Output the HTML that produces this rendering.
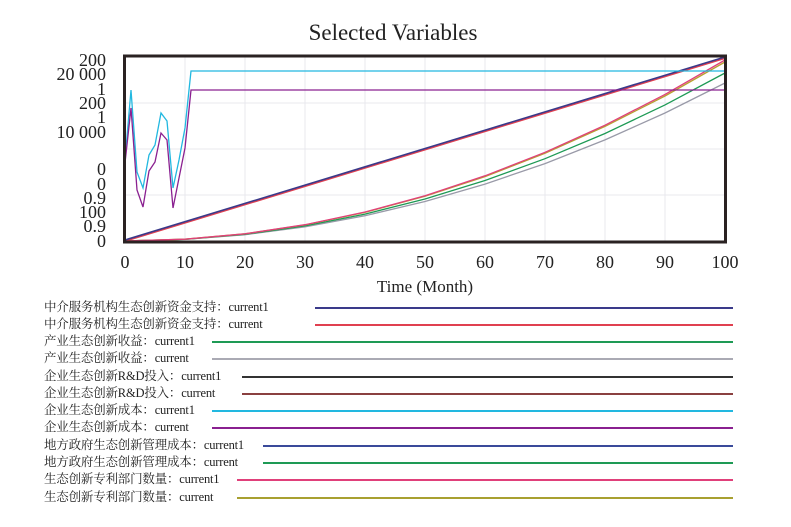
<!DOCTYPE html>
<html><head><meta charset="utf-8"><style>
body{margin:0;background:#fff;width:791px;height:527px;overflow:hidden;position:relative;font-family:"Liberation Serif","Noto Serif CJK SC",serif;}
.lg{position:absolute;left:44px;font-size:12.5px;color:#222;font-family:"Liberation Serif","Noto Serif CJK SC",serif;white-space:nowrap;line-height:14px;letter-spacing:-0.2px}
.ln{position:absolute;height:1.5px;right:58px}
</style></head><body>
<svg width="791" height="300" style="position:absolute;left:0;top:0" font-family="Liberation Serif, serif">
<text x="393" y="40" font-size="23" text-anchor="middle" fill="#222">Selected Variables</text>
<g stroke="#e8e8ee" stroke-width="1">
<line x1="185" y1="57" x2="185" y2="241"/><line x1="245" y1="57" x2="245" y2="241"/><line x1="305" y1="57" x2="305" y2="241"/><line x1="365" y1="57" x2="365" y2="241"/><line x1="425" y1="57" x2="425" y2="241"/><line x1="485" y1="57" x2="485" y2="241"/><line x1="545" y1="57" x2="545" y2="241"/><line x1="605" y1="57" x2="605" y2="241"/><line x1="665" y1="57" x2="665" y2="241"/>
<line x1="125" y1="103" x2="725" y2="103"/><line x1="125" y1="149" x2="725" y2="149"/><line x1="125" y1="195" x2="725" y2="195"/>
</g>
<g fill="none" stroke-width="1.3">
<polyline stroke="#999aa8" points="125,241 185,239.4 245,234.7 305,226.8 365,215.7 425,201.5 485,184.1 545,163.6 605,139.9 665,113 725,83"/>
<polyline stroke="#1e9a55" points="125,241 185,239.3 245,234.3 305,225.9 365,214.1 425,199 485,180.5 545,158.7 605,133.5 665,104.9 725,73"/>
<polyline stroke="#b8a030" points="125,241 185,239.2 245,233.8 305,224.9 365,212.4 425,196.3 485,176.6 545,153.3 605,126.4 665,96 725,62"/>
<polyline stroke="#e0407a" points="125,241 185,239.2 245,233.8 305,224.7 365,212 425,195.8 485,175.8 545,152.3 605,125.2 665,94.4 725,60"/>
<polyline stroke="#e04050" stroke-width="2" points="125,241 725,58"/>
<polyline stroke="#3a3a8a" stroke-width="1.6" points="125,240 725,57"/>
<polyline stroke="#22b8e0" points="125,160 131,90 137,172 143,188 149,155 155,145 161,113 167,121 173,188 179,160 185,128 191,71 725,71"/>
<polyline stroke="#8a2090" points="125,163 131,108 137,190 143,207 149,171 155,162 161,133 167,140 173,208 179,178 185,148 191,90 725,90"/>
</g>
<rect x="124.5" y="56" width="601" height="186" fill="none" stroke="#2a2222" stroke-width="3"/>
<g font-size="18" fill="#222" text-anchor="end">
<text x="106" y="66">200</text><text x="106" y="80">20 000</text><text x="106" y="95">1</text><text x="106" y="109">200</text><text x="106" y="123">1</text><text x="106" y="138">10 000</text><text x="106" y="175">0</text><text x="106" y="190">0</text><text x="106" y="204">0.9</text><text x="106" y="218">100</text><text x="106" y="232">0.9</text><text x="106" y="247">0</text>
</g>
<g font-size="18" fill="#222" text-anchor="middle">
<text x="125" y="268">0</text><text x="185" y="268">10</text><text x="245" y="268">20</text><text x="305" y="268">30</text><text x="365" y="268">40</text><text x="425" y="268">50</text><text x="485" y="268">60</text><text x="545" y="268">70</text><text x="605" y="268">80</text><text x="665" y="268">90</text><text x="725" y="268">100</text>
<text x="425" y="292" font-size="17">Time (Month)</text>
</g>
</svg>
<div class="lg" style="top:300px">中介服务机构生态创新资金支持：current1</div><div class="ln" style="top:307px;left:315px;background:#3a3a8a"></div>
<div class="lg" style="top:317px">中介服务机构生态创新资金支持：current</div><div class="ln" style="top:324px;left:315px;background:#e04050"></div>
<div class="lg" style="top:334px">产业生态创新收益：current1</div><div class="ln" style="top:341px;left:212px;background:#1e9a55"></div>
<div class="lg" style="top:351px">产业生态创新收益：current</div><div class="ln" style="top:358px;left:212px;background:#aaaab4"></div>
<div class="lg" style="top:369px">企业生态创新R&amp;D投入：current1</div><div class="ln" style="top:376px;left:242px;background:#333"></div>
<div class="lg" style="top:386px">企业生态创新R&amp;D投入：current</div><div class="ln" style="top:393px;left:242px;background:#8a4040"></div>
<div class="lg" style="top:403px">企业生态创新成本：current1</div><div class="ln" style="top:410px;left:212px;background:#22b8e0"></div>
<div class="lg" style="top:420px">企业生态创新成本：current</div><div class="ln" style="top:427px;left:212px;background:#8a2090"></div>
<div class="lg" style="top:438px">地方政府生态创新管理成本：current1</div><div class="ln" style="top:445px;left:263px;background:#3a4a9a"></div>
<div class="lg" style="top:455px">地方政府生态创新管理成本：current</div><div class="ln" style="top:462px;left:263px;background:#1e9a55"></div>
<div class="lg" style="top:472px">生态创新专利部门数量：current1</div><div class="ln" style="top:479px;left:237px;background:#e0407a"></div>
<div class="lg" style="top:490px">生态创新专利部门数量：current</div><div class="ln" style="top:497px;left:237px;background:#a8a030"></div>
</body></html>
